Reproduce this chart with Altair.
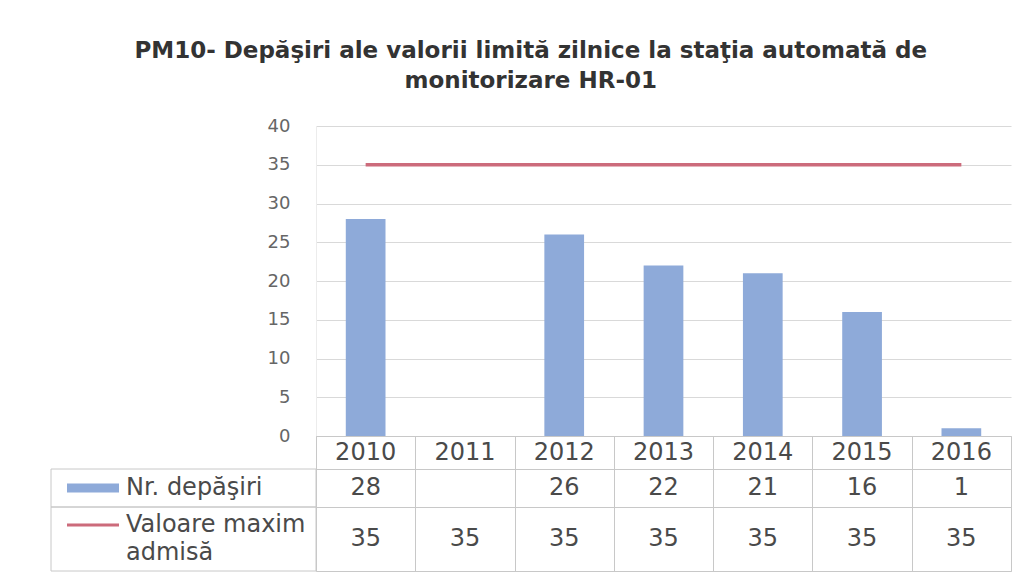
import altair as alt
import pandas as pd

# ---- data ----
years = ["2010", "2011", "2012", "2013", "2014", "2015", "2016"]
exceedances = [28, None, 26, 22, 21, 16, 1]
limit_value = [35, 35, 35, 35, 35, 35, 35]
y_ticks = [0, 5, 10, 15, 20, 25, 30, 35, 40]
row_labels = ["Nr. depăşiri", "Valoare maxim\nadmisă"]
title_lines = [
    "PM10- Depăşiri ale valorii limită zilnice la staţia automată de",
    "monitorizare HR-01",
]

# ---- styling ----
FONT = "DejaVu Sans"
BLUE = "#8eaad9"
RED = "#cc6b7b"
TXT = "#4a4a4a"
AXT = "#666666"
GRID = "#d9d9d9"
LINE = "#c8c8c8"
W, H = 695, 310
HDR, R1, R2 = 33, 38, 64
LEG = 265  # width of the legend column of the data table
FS = 24


def y_enc(field):
    return alt.Y(
        field,
        scale=alt.Scale(domain=[0, 40]),
        axis=alt.Axis(values=y_ticks, title=None, domain=True,
                      domainColor="#ececec", ticks=False,
                      labelFontSize=18, labelColor=AXT, labelFont=FONT,
                      labelPadding=26, gridColor=GRID, labelOverlap=False,
                      tickCount=9),
    )


df = pd.DataFrame({"year": years, "n": exceedances, "limit": limit_value})

# ---- main plot ----
x_main = alt.X(
    "year:N", sort=years,
    scale=alt.Scale(domain=years, paddingInner=0.6, paddingOuter=0.3),
    axis=None,
)
bars = alt.Chart(df).mark_bar(color=BLUE).encode(x=x_main, y=y_enc("n:Q"))
line = alt.Chart(df).mark_line(color=RED, strokeWidth=3.5).encode(
    x=x_main, y=y_enc("limit:Q")
)
main = alt.layer(bars, line).properties(
    width=W, height=H, view=alt.ViewBackground(stroke="transparent")
)

# ---- data table ----
x_tab = alt.X(
    "year:N", sort=years,
    scale=alt.Scale(domain=years, paddingInner=0, paddingOuter=0),
    axis=alt.Axis(grid=True, tickBand="extent", labels=False, ticks=False,
                  domain=False, title=None, gridColor=LINE),
)

header = alt.Chart(df).mark_text(
    font=FONT, fontSize=FS, color=TXT, baseline="middle"
).encode(x=x_tab, text="year:N").properties(width=W, height=HDR)

lab1 = pd.DataFrame({"label": [row_labels[0]]})
lab2 = pd.DataFrame({"label": [row_labels[1]]})

vals1 = alt.Chart(df).transform_filter("isValid(datum.n)").mark_text(
    font=FONT, fontSize=FS, color=TXT, baseline="middle"
).encode(x=x_tab, text="n:Q")
cell1 = alt.Chart(lab1).mark_rect(fill="transparent", stroke=LINE).encode(
    x=alt.value(-LEG), x2=alt.value(0), y=alt.value(0), y2=alt.value(R1)
)
sym1 = alt.Chart(lab1).mark_rect(color=BLUE).encode(
    x=alt.value(-249), x2=alt.value(-197),
    y=alt.value(R1 / 2 - 4.5), y2=alt.value(R1 / 2 + 4.5)
)
text1 = alt.Chart(lab1).mark_text(
    font=FONT, fontSize=FS, color=TXT, align="left", baseline="middle"
).encode(x=alt.value(-190), y=alt.value(R1 / 2), text="label:N")
row1 = alt.layer(vals1, cell1, sym1, text1).properties(width=W, height=R1)

vals2 = alt.Chart(df).mark_text(
    font=FONT, fontSize=FS, color=TXT, baseline="middle"
).encode(x=x_tab, text="limit:Q")
cell2 = alt.Chart(lab2).mark_rect(fill="transparent", stroke=LINE).encode(
    x=alt.value(-LEG), x2=alt.value(0), y=alt.value(0), y2=alt.value(R2)
)
sym2 = alt.Chart(lab2).mark_rule(color=RED, strokeWidth=3).encode(
    x=alt.value(-249), x2=alt.value(-197), y=alt.value(R2 / 2 - 14)
)
text2 = alt.Chart(lab2).mark_text(
    font=FONT, fontSize=FS, color=TXT, align="left", baseline="middle",
    lineBreak="\n", lineHeight=28
).encode(x=alt.value(-190), y=alt.value(R2 / 2 - 14), text="label:N")
row2 = alt.layer(vals2, cell2, sym2, text2).properties(width=W, height=R2)

chart = alt.vconcat(
    main, header, row1, row2, spacing=0, bounds="flush"
).resolve_scale(x="independent", y="independent").properties(
    title=alt.TitleParams(
        text=title_lines, font=FONT, fontSize=23, fontWeight="bold",
        color="#333333", anchor="middle", lineHeight=30, offset=24
    ),
    padding={"left": 42, "top": 31, "right": 5, "bottom": 5},
).configure_view(stroke=LINE)

chart.save("out.html", embed_options={"renderer": "svg", "actions": False})
